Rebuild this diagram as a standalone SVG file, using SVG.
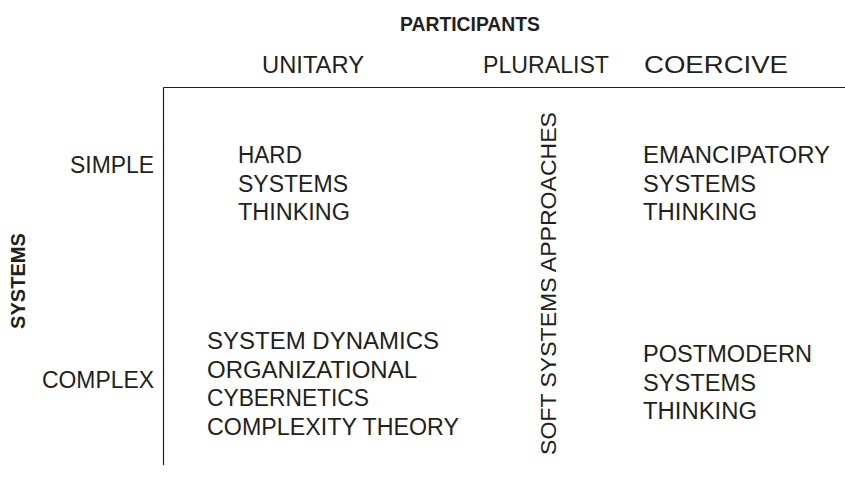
<svg xmlns="http://www.w3.org/2000/svg" width="845" height="493" viewBox="0 0 845 493">
<style>
text{font-family:"Liberation Sans",Arial,sans-serif;fill:#231f20;font-size:23.5px}
.b{font-weight:bold;font-size:21px}
.s{font-size:22px}
.ax{stroke:#231f20;stroke-width:1.2;fill:none}
</style>
<rect width="845" height="493" fill="#fff"/>
<g id="axes">
<path class="ax" d="M163.5,87.5H845M163.5,87.5V465"/>
</g>
<g id="participants"><text class="b" x="470" y="31" text-anchor="middle" textLength="140" lengthAdjust="spacingAndGlyphs">PARTICIPANTS</text></g>
<g id="unitary"><text x="262" y="73" textLength="102" lengthAdjust="spacingAndGlyphs">UNITARY</text></g>
<g id="pluralist"><text x="483" y="73" textLength="126" lengthAdjust="spacingAndGlyphs">PLURALIST</text></g>
<g id="coercive"><text x="644" y="73" textLength="144" lengthAdjust="spacingAndGlyphs">COERCIVE</text></g>
<g id="systems"><text class="b" transform="translate(25,281) rotate(-90)" text-anchor="middle" textLength="96" lengthAdjust="spacingAndGlyphs" style="font-size:20px">SYSTEMS</text></g>
<g id="simple"><text x="154" y="173" text-anchor="end" textLength="84" lengthAdjust="spacingAndGlyphs">SIMPLE</text></g>
<g id="complex"><text x="154" y="388" text-anchor="end" textLength="112" lengthAdjust="spacingAndGlyphs">COMPLEX</text></g>
<g id="hard">
<text x="238" y="163" textLength="64" lengthAdjust="spacingAndGlyphs">HARD</text>
<text x="238" y="192" textLength="110" lengthAdjust="spacingAndGlyphs">SYSTEMS</text>
<text x="238" y="220" textLength="112" lengthAdjust="spacingAndGlyphs">THINKING</text>
</g>
<g id="unitary-complex">
<text x="207" y="349" textLength="232" lengthAdjust="spacingAndGlyphs">SYSTEM DYNAMICS</text>
<text x="207" y="378" textLength="210" lengthAdjust="spacingAndGlyphs">ORGANIZATIONAL</text>
<text x="207" y="406" textLength="162" lengthAdjust="spacingAndGlyphs">CYBERNETICS</text>
<text x="207" y="435" textLength="252" lengthAdjust="spacingAndGlyphs">COMPLEXITY THEORY</text>
</g>
<g id="soft"><text class="s" transform="translate(556,455) rotate(-90)" textLength="343" lengthAdjust="spacingAndGlyphs">SOFT SYSTEMS APPROACHES</text></g>
<g id="emancipatory">
<text x="643" y="163" textLength="187" lengthAdjust="spacingAndGlyphs">EMANCIPATORY</text>
<text x="643" y="192" textLength="113" lengthAdjust="spacingAndGlyphs">SYSTEMS</text>
<text x="643" y="220" textLength="114" lengthAdjust="spacingAndGlyphs">THINKING</text>
</g>
<g id="postmodern">
<text x="643" y="362" textLength="169" lengthAdjust="spacingAndGlyphs">POSTMODERN</text>
<text x="643" y="391" textLength="113" lengthAdjust="spacingAndGlyphs">SYSTEMS</text>
<text x="643" y="419" textLength="114" lengthAdjust="spacingAndGlyphs">THINKING</text>
</g>
</svg>
